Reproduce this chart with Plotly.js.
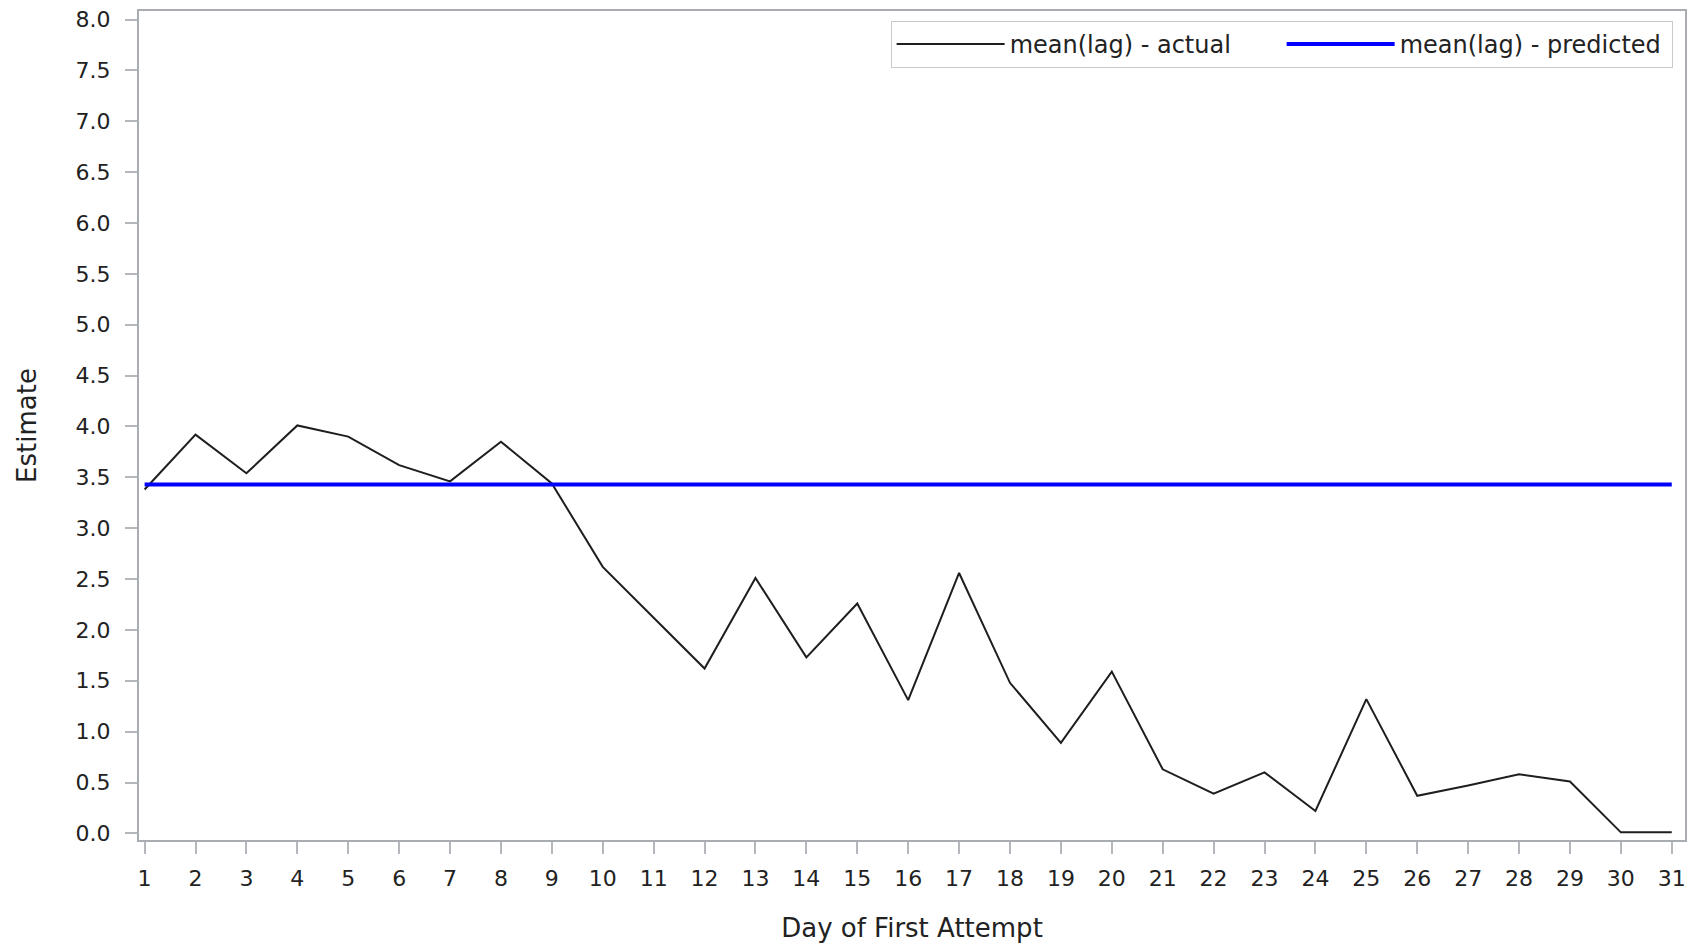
<!DOCTYPE html>
<html>
<head>
<meta charset="utf-8">
<script src="https://cdn.plot.ly/plotly-3.0.1.min.js"></script>
<style>
html,body{margin:0;padding:0;background:#fff;}
#chart{width:1697px;height:944px;}
</style>
</head>
<body>
<div id="chart"></div>
<script>
// Day of first attempt
const days = [1,2,3,4,5,6,7,8,9,10,11,12,13,14,15,16,17,18,19,20,21,22,23,24,25,26,27,28,29,30,31];
// mean(lag) - actual
const actual = [3.38,3.92,3.54,4.01,3.90,3.62,3.46,3.85,3.44,2.62,2.12,1.62,2.51,1.73,2.26,1.31,2.56,1.48,0.89,1.59,0.63,0.39,0.60,0.22,1.32,0.37,0.47,0.58,0.51,0.01,0.01];
// mean(lag) - predicted (constant)
const predictedValue = 3.43;
const predicted = days.map(() => predictedValue);

const yTickVals = [0,0.5,1,1.5,2,2.5,3,3.5,4,4.5,5,5.5,6,6.5,7,7.5,8];
const yTickText = yTickVals.map(v => v.toFixed(1));

const FONT = "DejaVu Sans, Liberation Sans, Arial, sans-serif";
const AXIS = "#A9ADB1";
const TICK = "#B4B8BC";

const traces = [
  {
    x: days, y: actual, type: 'scatter', mode: 'lines',
    name: 'mean(lag) - actual',
    line: {color: '#1e1e1e', width: 2}
  },
  {
    x: days, y: predicted, type: 'scatter', mode: 'lines',
    name: 'mean(lag) - predicted',
    line: {color: '#0000FF', width: 4}
  }
];

const layout = {
  width: 1697, height: 944,
  margin: {l: 139, r: 12, t: 11, b: 104, pad: 0},
  paper_bgcolor: '#fff', plot_bgcolor: '#fff',
  font: {family: FONT, size: 22, color: '#222'},
  showlegend: true,
  legend: {
    orientation: 'h', x: 0.992, xanchor: 'right', y: 0.988, yanchor: 'top',
    bgcolor: '#fff', bordercolor: '#C8CACC', borderwidth: 1,
    font: {family: FONT, size: 24, color: '#222'},
    itemwidth: 108, entrywidth: 267, entrywidthmode: 'pixels', tracegroupgap: 0
  },
  xaxis: {
    range: [0.89, 31.26], tickmode: 'array', tickvals: days, ticktext: days.map(String),
    showgrid: false, zeroline: false, showline: true, linecolor: AXIS, linewidth: 2,
    mirror: true, ticks: 'outside', ticklen: 12, tickwidth: 2, tickcolor: TICK,
    ticklabelstandoff: 6,
    tickfont: {family: FONT, size: 22, color: '#222'},
    title: {text: 'Day of First Attempt', font: {family: FONT, size: 26, color: '#222'}, standoff: 28}
  },
  yaxis: {
    range: [-0.065, 8.084], tickmode: 'array', tickvals: yTickVals, ticktext: yTickText,
    showgrid: false, zeroline: false, showline: true, linecolor: AXIS, linewidth: 2,
    mirror: true, ticks: 'outside', ticklen: 12, tickwidth: 2, tickcolor: TICK,
    ticklabelstandoff: 10,
    tickfont: {family: FONT, size: 22, color: '#222'},
    title: {text: 'Estimate', font: {family: FONT, size: 26, color: '#222'}, standoff: 31}
  }
};

Plotly.newPlot('chart', traces, layout, {displayModeBar: false, staticPlot: true});
</script>
</body>
</html>
